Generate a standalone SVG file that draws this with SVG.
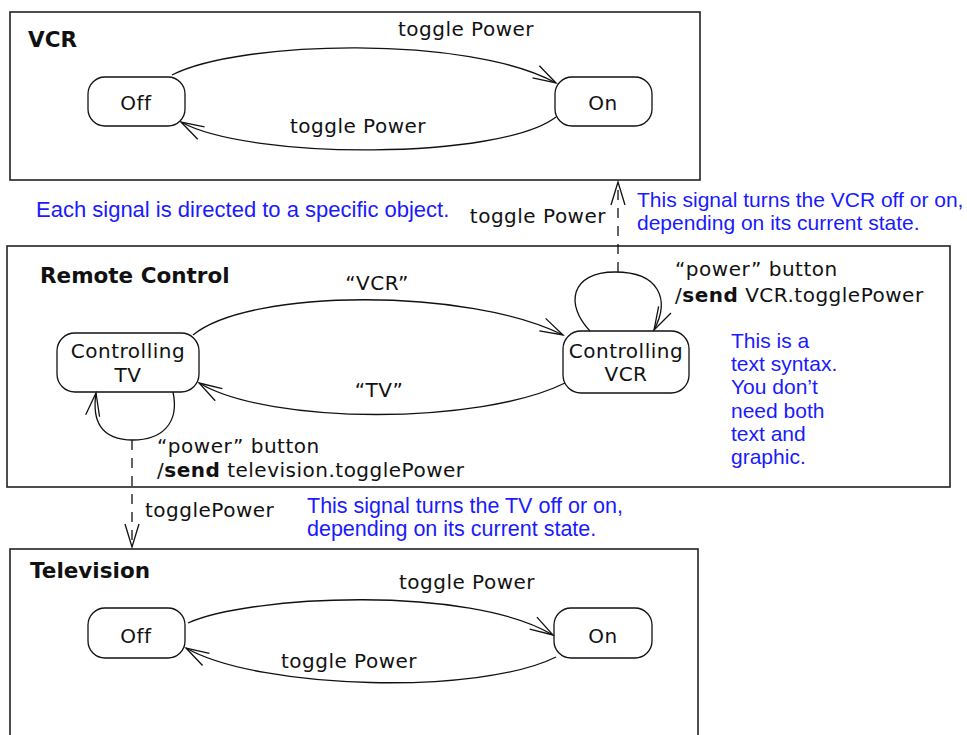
<svg xmlns="http://www.w3.org/2000/svg" width="967" height="735" viewBox="0 0 967 735">
<style>
  .box { fill: #ffffff; stroke: #222; stroke-width: 1.6; }
  .state { fill: #ffffff; stroke: #111; stroke-width: 1.3; }
  .t { font-family: "DejaVu Sans", "Liberation Sans", sans-serif; font-size: 20px; letter-spacing: 0.5px; fill: #111; }
  .title { font-family: "DejaVu Sans", "Liberation Sans", sans-serif; font-size: 21.5px; font-weight: bold; fill: #111; }
  .b { font-weight: bold; }
  .note { font-family: "Liberation Sans", Arial, sans-serif; font-size: 21px; fill: #1a1aff; }
  .note.big { font-size: 22px; }
  .note.mbig { font-size: 21.5px; }
  .mid { text-anchor: middle; }
  .edge { fill: none; stroke: #111; stroke-width: 1.3; }
  .dash { fill: none; stroke: #111; stroke-width: 1.3; stroke-dasharray: 10 8; }
</style>
<defs>
  <marker id="arr" markerUnits="userSpaceOnUse" markerWidth="26" markerHeight="16" viewBox="0 0 26 16" refX="24" refY="8" orient="auto">
    <path d="M1,1 L24,8 L1,15" fill="none" stroke="#111" stroke-width="1.3"/>
  </marker>
</defs>

<g id="vcr">
  <rect class="box" x="10" y="12" width="690" height="168"/>
  <text class="title" x="28" y="47">VCR</text>
</g>
<g id="vcr-off">
  <rect class="state" x="88" y="77" width="97" height="49" rx="17"/>
  <text class="t mid" x="136" y="110">Off</text>
</g>
<g id="vcr-on">
  <rect class="state" x="555" y="77" width="97" height="49" rx="17"/>
  <text class="t mid" x="603" y="110">On</text>
</g>

<g id="remote">
  <rect class="box" x="7" y="246" width="943" height="241"/>
  <text class="title" x="40" y="283">Remote Control</text>
</g>
<g id="ctrl-tv">
  <rect class="state" x="57" y="333" width="142" height="59" rx="18"/>
  <text class="t mid" x="128" y="358">Controlling</text>
  <text class="t mid" x="128" y="382">TV</text>
</g>
<g id="ctrl-vcr">
  <rect class="state" x="563" y="331" width="126" height="62" rx="18"/>
  <text class="t mid" x="626" y="358">Controlling</text>
  <text class="t mid" x="626" y="381">VCR</text>
</g>

<g id="television">
  <rect class="box" x="10" y="549" width="688" height="200"/>
  <text class="title" x="30" y="578">Television</text>
</g>
<g id="tv-off">
  <rect class="state" x="88" y="608" width="97" height="50" rx="17"/>
  <text class="t mid" x="136" y="643">Off</text>
</g>
<g id="tv-on">
  <rect class="state" x="554" y="608" width="98" height="50" rx="17"/>
  <text class="t mid" x="603" y="643">On</text>
</g>

<g id="connectors">
  <path class="edge" d="M172,75 C240,40 470,35 556,83" marker-end="url(#arr)"/>
  <path class="edge" d="M556,117 C500,160 250,160 181,122" marker-end="url(#arr)"/>
  <path class="edge" d="M193,335 C250,288 470,288 563,335" marker-end="url(#arr)"/>
  <path class="edge" d="M565,383 C480,425 270,425 199,383" marker-end="url(#arr)"/>
  <path class="edge" d="M173,392 C180,425 160,440 133,440 C100,440 92,420 96,393" marker-end="url(#arr)"/>
  <path class="edge" d="M590,331 C565,305 570,272 615,272 C660,272 670,300 654,330" marker-end="url(#arr)"/>
  <path class="dash" d="M618,272 L618,182" marker-end="url(#arr)"/>
  <path class="dash" d="M132,440 L132,547" marker-end="url(#arr)"/>
  <path class="edge" d="M188,623 C250,595 470,585 553,635" marker-end="url(#arr)"/>
  <path class="edge" d="M556,657 C480,695 260,690 186,648" marker-end="url(#arr)"/>
</g>

<g id="labels">
  <text class="t mid" x="466" y="36">toggle Power</text>
  <text class="t mid" x="358" y="133">toggle Power</text>
  <text class="t" x="606" y="223" text-anchor="end">toggle Power</text>
  <text class="t mid" x="377" y="290">“VCR”</text>
  <text class="t mid" x="379" y="397">“TV”</text>
  <text class="t" x="675" y="276">“power” button</text>
  <text class="t" x="675" y="302">/<tspan class="b">send</tspan> VCR.togglePower</text>
  <text class="t" x="157" y="453">“power” button</text>
  <text class="t" x="157" y="477">/<tspan class="b">send</tspan> television.togglePower</text>
  <text class="t" x="145" y="517">togglePower</text>
  <text class="t mid" x="467" y="589">toggle Power</text>
  <text class="t mid" x="349" y="668">toggle Power</text>
</g>

<g id="notes">
  <text class="note big" x="36" y="217">Each signal is directed to a specific object.</text>
  <text class="note" x="637" y="207">This signal turns the VCR off or on,</text>
  <text class="note" x="637" y="230">depending on its current state.</text>
  <text class="note" x="731" y="348">This is a</text>
  <text class="note" x="731" y="371">text syntax.</text>
  <text class="note" x="731" y="394">You don’t</text>
  <text class="note" x="731" y="418">need both</text>
  <text class="note" x="731" y="441">text and</text>
  <text class="note" x="731" y="464">graphic.</text>
  <text class="note mbig" x="307" y="513">This signal turns the TV off or on,</text>
  <text class="note mbig" x="307" y="536">depending on its current state.</text>
</g>
</svg>
